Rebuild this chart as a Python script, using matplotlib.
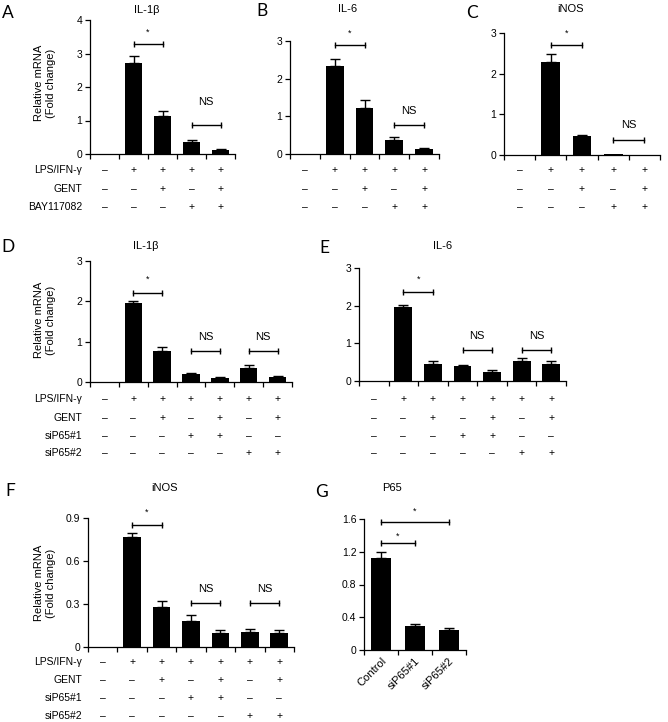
import numpy as np
import matplotlib
matplotlib.use('Agg')
import matplotlib.pyplot as plt
from matplotlib.transforms import blended_transform_factory

plt.rcParams['font.family'] = ['Liberation Sans', 'DejaVu Sans']

W, H = 668, 722

# ---- data ----
# A-C: LPS/IFN-g, GENT, BAY117082
a_vals = [0.01, 2.71, 1.13, 0.35, 0.11]
a_err = [0.0, 0.22, 0.14, 0.08, 0.03]
b_vals = [0.0, 2.34, 1.22, 0.36, 0.13]
b_err = [0.0, 0.17, 0.21, 0.08, 0.03]
c_vals = [0.0, 2.28, 0.47, 0.03, 0.01]
c_err = [0.0, 0.21, 0.02, 0.0, 0.0]

abc_rows = ['LPS/IFN-γ', 'GENT', 'BAY117082']
abc_signs = [['-', '+', '+', '+', '+'],
             ['-', '-', '+', '-', '+'],
             ['-', '-', '-', '+', '+']]

# D-F: LPS/IFN-g, GENT, siP65#1, siP65#2
d_vals = [0.01, 1.96, 0.76, 0.19, 0.10, 0.34, 0.13]
d_err = [0.0, 0.04, 0.12, 0.04, 0.03, 0.07, 0.03]
e_vals = [0.0, 1.96, 0.44, 0.39, 0.25, 0.52, 0.44]
e_err = [0.0, 0.07, 0.10, 0.04, 0.04, 0.10, 0.09]
f_vals = [0.0, 0.77, 0.28, 0.18, 0.097, 0.108, 0.10]
f_err = [0.0, 0.025, 0.04, 0.045, 0.02, 0.02, 0.02]

def_rows = ['LPS/IFN-γ', 'GENT', 'siP65#1', 'siP65#2']
def_signs = [['-', '+', '+', '+', '+', '+', '+'],
             ['-', '-', '+', '-', '+', '-', '+'],
             ['-', '-', '-', '+', '+', '-', '-'],
             ['-', '-', '-', '-', '-', '+', '+']]

# G: P65 knockdown
g_labels = ['Control', 'siP65#1', 'siP65#2']
g_vals = [1.12, 0.29, 0.245]
g_err = [0.08, 0.03, 0.025]

# brackets: (bar i, bar j, bracket y, text, text y)
a_sig = [(1, 2, 3.28, '*', 3.62), (3, 4, 0.86, 'NS', 1.40)]
b_sig = [(1, 2, 2.90, '*', 3.20), (3, 4, 0.76, 'NS', 1.01)]
c_sig = [(1, 2, 2.71, '*', 3.00), (3, 4, 0.36, 'NS', 0.61)]
d_sig = [(1, 2, 2.21, '*', 2.55), (3, 4, 0.77, 'NS', 0.99), (5, 6, 0.77, 'NS', 0.99)]
e_sig = [(1, 2, 2.36, '*', 2.71), (3, 4, 0.81, 'NS', 1.05), (5, 6, 0.81, 'NS', 1.05)]
f_sig = [(1, 2, 0.85, '*', 0.94), (3, 4, 0.31, 'NS', 0.37), (5, 6, 0.31, 'NS', 0.37)]
g_sig = [(0, 1, 1.31, '*', 1.39), (0, 2, 1.56, '*', 1.70)]

fig = plt.figure(figsize=(W / 100, H / 100), dpi=100)


def bar_panel(box, vals, errs, top, yticks, yticklabels, sig):
    # box is left, top, right, bottom in pixels
    l, t, r, b = box
    ax = fig.add_axes([l / W, 1 - b / H, (r - l) / W, (b - t) / H])
    n = len(vals)
    x = np.arange(n)
    ax.bar(x, vals, width=0.6, color='black', zorder=2)
    for i in range(n):
        if errs[i] > 0:
            ax.errorbar(x[i], vals[i], yerr=[[0], [errs[i]]], fmt='none',
                        ecolor='black', elinewidth=1, capsize=3.5, capthick=1)
    ax.set_xlim(-0.5, n - 0.5)
    ax.set_ylim(0, top)
    ax.set_yticks(yticks)
    ax.set_yticklabels(yticklabels)
    ax.set_xticks(np.arange(n + 1) - 0.5)
    ax.set_xticklabels([])
    for s in ['top', 'right']:
        ax.spines[s].set_visible(False)
    for s in ['left', 'bottom']:
        ax.spines[s].set_linewidth(0.9)
    ax.tick_params(direction='out', length=3.5, width=0.9, labelsize=7.5, pad=2)
    for i, j, y, txt, ty in sig:
        ax.plot([i, j], [y, y], color='black', lw=1, marker='|', markersize=5,
                markeredgewidth=1, clip_on=False)
        if txt == '*':
            ax.text((i + j) / 2, ty, txt, ha='center', va='center', fontsize=6.5)
        else:
            ax.text((i + j) / 2, ty, txt, ha='center', va='bottom', fontsize=8)
    return ax


def sign_rows(ax, names, signs, rows_py, label_px=None):
    tr = blended_transform_factory(ax.transData, fig.transFigure)
    for k, row in enumerate(signs):
        yf = 1 - rows_py[k] / H
        for i, s in enumerate(row):
            ax.text(i, yf, '+' if s == '+' else '–', transform=tr,
                    ha='center', va='center', fontsize=7.5)
        if label_px is not None:
            fig.text(label_px / W, yf, names[k], ha='right', va='center', fontsize=7.5)


def fig_text(px, py, s, **kw):
    fig.text(px / W, 1 - py / H, s, **kw)


# ---- top row ----
axA = bar_panel((90, 20, 235, 154), a_vals, a_err, 4, [0, 1, 2, 3, 4],
                ['0', '1', '2', '3', '4'], a_sig)
sign_rows(axA, abc_rows, abc_signs, [170, 189, 207], label_px=82)

axB = bar_panel((290, 41, 439, 154), b_vals, b_err, 3, [0, 1, 2, 3],
                ['0', '1', '2', '3'], b_sig)
sign_rows(axB, abc_rows, abc_signs, [170, 189, 207])

axC = bar_panel((504, 33, 660, 155), c_vals, c_err, 3, [0, 1, 2, 3],
                ['0', '1', '2', '3'], c_sig)
sign_rows(axC, abc_rows, abc_signs, [170, 189, 207])

# ---- middle row ----
axD = bar_panel((90, 261, 292, 382), d_vals, d_err, 3, [0, 1, 2, 3],
                ['0', '1', '2', '3'], d_sig)
sign_rows(axD, def_rows, def_signs, [399, 418, 436, 453], label_px=82)

axE = bar_panel((359, 268, 566, 381), e_vals, e_err, 3, [0, 1, 2, 3],
                ['0', '1', '2', '3'], e_sig)
sign_rows(axE, def_rows, def_signs, [399, 418, 436, 453])

# ---- bottom row ----
axF = bar_panel((88, 518, 294, 647), f_vals, f_err, 0.9, [0, 0.3, 0.6, 0.9],
                ['0', '0.3', '0.6', '0.9'], f_sig)
sign_rows(axF, def_rows, def_signs, [662, 680, 698, 716], label_px=82)

axG = bar_panel((364, 519, 466, 650), g_vals, g_err, 1.6, [0, 0.4, 0.8, 1.2, 1.6],
                ['0', '0.4', '0.8', '1.2', '1.6'], g_sig)
axG.set_xticks(np.arange(len(g_labels)), minor=True)
axG.set_xticklabels(g_labels, minor=True, rotation=45, ha='right',
                    rotation_mode='anchor', fontsize=8)
axG.tick_params(axis='x', which='minor', length=0, pad=4)

# y labels
for py in [83, 320, 583]:
    fig_text(45, py, 'Relative mRNA\n(Fold change)', rotation=90, ha='center',
             va='center', fontsize=8, multialignment='center')

# titles
for px, py, s in [(147, 10, 'IL-1β'), (348, 9, 'IL-6'), (570, 9, 'iNOS'),
                  (146, 246, 'IL-1β'), (443, 246, 'IL-6'),
                  (165, 488, 'iNOS'), (392, 488, 'P65')]:
    fig_text(px, py, s, ha='center', va='center', fontsize=8)

# panel letters
for px, py, s in [(8, 13, 'A'), (262, 11, 'B'), (472, 13, 'C'),
                  (8, 247, 'D'), (324, 248, 'E'), (10, 491, 'F'), (322, 492, 'G')]:
    fig_text(px, py, s, ha='center', va='center', fontsize=12.5, family='Lato')

fig.savefig('out.png', dpi=100)
